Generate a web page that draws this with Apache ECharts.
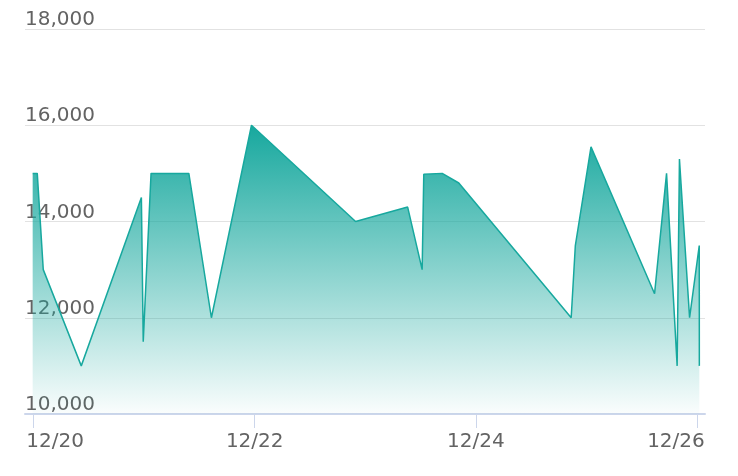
<!DOCTYPE html>
<html>
<head>
<meta charset="utf-8">
<style>
  html, body { margin: 0; padding: 0; background: #ffffff; }
  #chart { width: 738px; height: 476px; }
</style>
<script src="https://cdn.jsdelivr.net/npm/echarts@6/dist/echarts.min.js"></script>
</head>
<body>
<div id="chart"></div>
<script>
// ---- data ----
var times = [
  '2023-12-19 23:48', '2023-12-20 00:48', '2023-12-20 02:06', '2023-12-20 10:21',
  '2023-12-20 23:24', '2023-12-20 23:48', '2023-12-21 01:30', '2023-12-21 09:42',
  '2023-12-21 14:36', '2023-12-21 23:18', '2023-12-22 21:54', '2023-12-23 09:12',
  '2023-12-23 12:21', '2023-12-23 12:42', '2023-12-23 16:42', '2023-12-23 20:18',
  '2023-12-24 20:42', '2023-12-24 21:36', '2023-12-25 01:00', '2023-12-25 14:48',
  '2023-12-25 17:24', '2023-12-25 19:42', '2023-12-25 20:12', '2023-12-25 22:24',
  '2023-12-26 00:30', '2023-12-26 00:31'
];
var values = [
  15000, 15000, 13000, 11000,
  14500, 11500, 15000, 15000,
  12000, 16000, 14000, 14300,
  13000, 14980, 15000, 14800,
  12000, 13500, 15550, 12500,
  15000, 11000, 15300, 12000,
  13500, 11000
];
var xTickDates = ['2023-12-20', '2023-12-22', '2023-12-24', '2023-12-26'];
var yTicks = [10000, 12000, 14000, 16000, 18000];

// ---- build ----
var parse = echarts.time.parse;
var seriesData = times.map(function (t, i) { return [parse(t).getTime(), values[i]]; });
var xTickValues = xTickDates.map(function (d) { return parse(d).getTime(); });

function pad(n) { return (n < 10 ? '0' : '') + n; }

var chart = echarts.init(document.getElementById('chart'), null, { renderer: 'canvas' });
chart.setOption({
  backgroundColor: '#ffffff',
  animation: false,
  grid: { left: 25, right: 33, top: 29, bottom: 62, containLabel: false },
  xAxis: {
    type: 'value',
    scale: true,
    min: function (v) { return v.min - (v.max - v.min) * 0.0115; },
    max: function (v) { return v.max + (v.max - v.min) * 0.0085; },
    axisLine: { show: true, lineStyle: { color: '#ccd6eb', width: 2 } },
    axisTick: { show: true, length: 14, customValues: xTickValues, lineStyle: { color: '#ccd6eb', width: 1 } },
    splitLine: { show: false },
    axisLabel: {
      customValues: xTickValues,
      margin: 18,
      fontFamily: 'DejaVu Sans', fontSize: 20, color: '#636363',
      hideOverlap: false,
      formatter: function (value) {
        var d = new Date(value);
        var s = pad(d.getMonth() + 1) + '/' + pad(d.getDate());
        if (value === xTickValues[0]) return '{first|' + s + '}';
        if (value === xTickValues[xTickValues.length - 1]) return '{last|' + s + '}';
        return '{mid|' + s + '}';
      },
      rich: {
        first: { fontFamily: 'DejaVu Sans', fontSize: 20, color: '#636363', padding: [0, 0, 0, 43] },
        last: { fontFamily: 'DejaVu Sans', fontSize: 20, color: '#636363', padding: [0, 42, 0, 0] },
        mid: { fontFamily: 'DejaVu Sans', fontSize: 20, color: '#636363' }
      }
    }
  },
  yAxis: {
    type: 'value',
    min: yTicks[0],
    max: yTicks[yTicks.length - 1],
    interval: 2000,
    axisLine: { show: false },
    axisTick: { show: false },
    splitLine: { show: true, lineStyle: { color: '#e2e2e2', width: 1 } },
    axisLabel: {
      inside: true,
      margin: 0,
      verticalAlign: 'bottom',
      padding: [0, 0, -1, 0],
      fontFamily: 'DejaVu Sans', fontSize: 20, color: '#636363',
      formatter: function (v) { return v.toLocaleString('en-US'); }
    }
  },
  series: [{
    type: 'line',
    data: seriesData,
    showSymbol: false,
    symbol: 'none',
    lineStyle: { color: '#17a89e', width: 1.5 },
    itemStyle: { color: '#17a89e' },
    areaStyle: {
      opacity: 1,
      color: new echarts.graphic.LinearGradient(0, 0, 0, 1, [
        { offset: 0, color: 'rgba(23,168,158,1)' },
        { offset: 1, color: 'rgba(23,168,158,0.02)' }
      ])
    },
    z: 3
  }]
});
</script>
</body>
</html>
